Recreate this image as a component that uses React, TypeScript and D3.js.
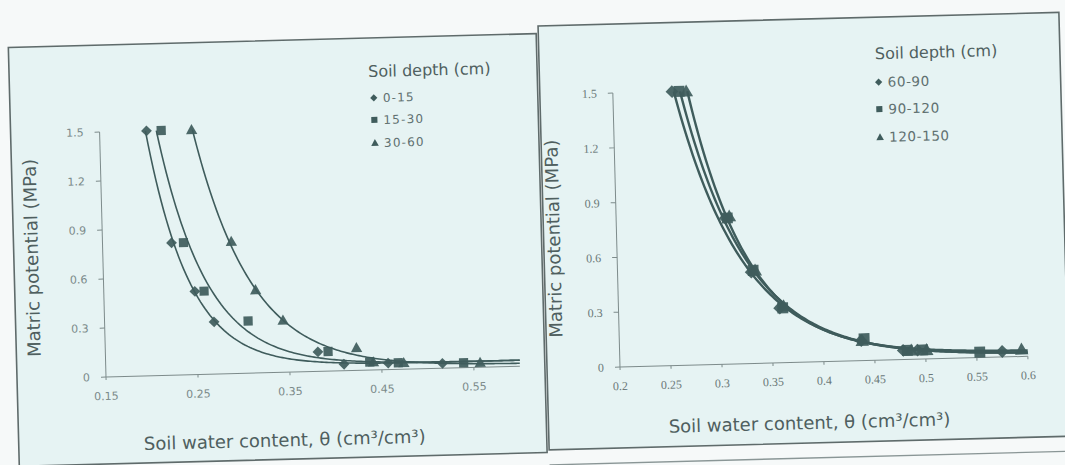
import React from "react";
import * as d3 from "d3";

// ---------------- Data ----------------
// Left chart: soil depth 0-60 cm  [water content θ, matric potential MPa]
const leftCategories = ["0-15", "15-30", "30-60"];
const depth0_15: [number, number][] = [
  [0.201, 1.5], [0.225, 0.81], [0.249, 0.51], [0.269, 0.32],
  [0.381, 0.12], [0.409, 0.04], [0.457, 0.04], [0.516, 0.03],
];
const depth15_30: [number, number][] = [
  [0.217, 1.5], [0.238, 0.81], [0.259, 0.51], [0.306, 0.32],
  [0.392, 0.12], [0.437, 0.05], [0.468, 0.04], [0.539, 0.03],
];
const depth30_60: [number, number][] = [
  [0.25, 1.5], [0.29, 0.81], [0.315, 0.51], [0.344, 0.32],
  [0.423, 0.14], [0.441, 0.05], [0.474, 0.04], [0.557, 0.03],
];
const leftXTicks = [0.15, 0.25, 0.35, 0.45, 0.55];
const leftXTickLabels = ["0.15", "0.25", "0.35", "0.45", "0.55"];
const leftYTicks = [0, 0.3, 0.6, 0.9, 1.2, 1.5];
const leftYTickLabels = ["0", "0.3", "0.6", "0.9", "1.2", "1.5"];

// Right chart: soil depth 60-150 cm
const rightCategories = ["60-90", "90-120", "120-150"];
const depth60_90: [number, number][] = [
  [0.258, 1.5], [0.307, 0.8], [0.331, 0.5], [0.358, 0.3],
  [0.437, 0.11], [0.478, 0.05], [0.492, 0.05], [0.575, 0.03],
];
const depth90_120: [number, number][] = [
  [0.265, 1.5], [0.309, 0.8], [0.333, 0.51], [0.361, 0.3],
  [0.44, 0.12], [0.482, 0.05], [0.497, 0.05], [0.553, 0.03],
];
const depth120_150: [number, number][] = [
  [0.272, 1.5], [0.311, 0.81], [0.335, 0.51], [0.362, 0.31],
  [0.438, 0.11], [0.486, 0.05], [0.501, 0.05], [0.594, 0.04],
];
const rightXTicks = [0.2, 0.25, 0.3, 0.35, 0.4, 0.45, 0.5, 0.55, 0.6];
const rightXTickLabels = ["0.2", "0.25", "0.3", "0.35", "0.4", "0.45", "0.5", "0.55", "0.6"];
const rightYTicks = [0, 0.3, 0.6, 0.9, 1.2, 1.5];
const rightYTickLabels = ["0", "0.3", "0.6", "0.9", "1.2", "1.5"];

const legendTitle = "Soil depth (cm)";
const yTitle = "Matric potential (MPa)";
const xTitle = "Soil water content, θ (cm³/cm³)";

// ---------------- Styling ----------------
const W = 1065;
const H = 465;
const PAGE = "#f6f9f9";
const PANEL = "#e6f3f3";
const FRAME = "#5f6b6b";
const INK = "#3f5c5c";
const TEXT = "#4f5f5f";
const TICKTEXT = "#7b8a8a";

type Pt = [number, number];

// weighted least-squares trendline y = c + a·exp(-b·x)
function fitExp(pts: Pt[]) {
  let best = { sse: Infinity, a: 0, b: 0, c: 0 };
  const w = pts.map((p) => 1 / p[1]);
  for (let b = 5; b <= 70; b += 0.1) {
    const e = pts.map((p) => Math.exp(-b * p[0]));
    const sw = d3.sum(w);
    const swe = d3.sum(e, (v, i) => w[i] * v);
    const swee = d3.sum(e, (v, i) => w[i] * v * v);
    const swy = d3.sum(pts, (p, i) => w[i] * p[1]);
    const swey = d3.sum(pts, (p, i) => w[i] * e[i] * p[1]);
    const det = sw * swee - swe * swe;
    if (Math.abs(det) < 1e-40) continue;
    const a = (sw * swey - swe * swy) / det;
    const c = (swy - a * swe) / sw;
    const sse = d3.sum(pts, (p, i) => w[i] * (c + a * e[i] - p[1]) ** 2);
    if (sse < best.sse) best = { sse, a, b, c };
  }
  return best;
}

function markerPath(kind: number, s: number) {
  if (kind === 0) return `M0,${-s}L${s},0L0,${s}L${-s},0Z`;
  if (kind === 1) {
    const h = s * 0.85;
    return `M${-h},${-h}H${h}V${h}H${-h}Z`;
  }
  const t = s * 1.05;
  return `M0,${-t}L${t},${t * 0.8}L${-t},${t * 0.8}Z`;
}

type PanelCfg = {
  series: Pt[][];
  names: string[];
  xDomain: [number, number];
  xRange: [number, number];
  yRange: [number, number];
  xTicks: number[];
  xTickLabels: string[];
  yTicks: number[];
  yTickLabels: string[];
  tickFont: string;
  tickSize: number;
  tickColor: string;
  rot: number;
  frame: [number, number, number, number];
  legend: { tx: number; ty: number; mx: number; lx: number; ys: number[]; size: number; spacing: number; titleSize: number };
  yTitlePos: [number, number];
  xTitlePos: [number, number];
  lineWidth: number;
  markerSize: number;
  extraLine?: boolean;
};

function Panel({ cfg }: { cfg: PanelCfg }) {
  const x = d3.scaleLinear().domain(cfg.xDomain).range(cfg.xRange);
  const y = d3.scaleLinear().domain([0, 1.5]).range(cfg.yRange);
  const ox = x(cfg.xDomain[0]);
  const oy = y(0);
  const line = d3.line<Pt>().x((d) => x(d[0])).y((d) => y(d[1])).curve(d3.curveLinear);
  const [fx0, fy0, fx1, fy1] = cfg.frame;

  const curves = cfg.series.map((pts) => {
    const f = fitExp(pts);
    const xStart = Math.log(f.a / (1.5 - f.c)) / f.b;
    const xEnd = cfg.xDomain[1];
    const n = 160;
    const cpts: Pt[] = d3.range(n + 1).map((i) => {
      const xv = xStart + ((xEnd - xStart) * i) / n;
      return [xv, f.c + f.a * Math.exp(-f.b * xv)];
    });
    return cpts;
  });

  return (
    <g transform={`rotate(${cfg.rot} ${ox} ${oy})`}>
      <rect x={fx0} y={fy0} width={fx1 - fx0} height={fy1 - fy0} fill={PANEL} stroke={FRAME} strokeWidth={1.6} />
      {cfg.extraLine && (
        <line x1={fx0} x2={fx1 + 20} y1={fy1 + 15} y2={fy1 + 15} stroke="#8a9696" strokeWidth={1.4} />
      )}
      {/* axes */}
      <line x1={ox} x2={ox} y1={oy} y2={y(1.5)} stroke="#7d8b8b" strokeWidth={1} />
      <line x1={ox} x2={x(cfg.xDomain[1])} y1={oy} y2={oy} stroke="#7d8b8b" strokeWidth={1} />
      {cfg.yTicks.map((t, i) => (
        <g key={"yt" + i}>
          <line x1={ox - 5} x2={ox} y1={y(t)} y2={y(t)} stroke="#7d8b8b" strokeWidth={1} />
          <text
            x={ox - 16}
            y={y(t)}
            dy="0.35em"
            textAnchor="end"
            fontFamily={cfg.tickFont}
            fontSize={cfg.tickSize}
            fill={cfg.tickColor}
          >
            {cfg.yTickLabels[i]}
          </text>
        </g>
      ))}
      {cfg.xTicks.map((t, i) => (
        <g key={"xt" + i}>
          <line x1={x(t)} x2={x(t)} y1={oy} y2={oy + 3} stroke="#7d8b8b" strokeWidth={1} />
          <text
            x={x(t)}
            y={oy + 23}
            textAnchor="middle"
            fontFamily={cfg.tickFont}
            fontSize={cfg.tickSize}
            fill={cfg.tickColor}
          >
            {cfg.xTickLabels[i]}
          </text>
        </g>
      ))}
      {/* fitted curves */}
      {curves.map((c, i) => (
        <path key={"c" + i} d={line(c) || ""} fill="none" stroke={INK} strokeWidth={cfg.lineWidth} />
      ))}
      {/* markers */}
      {cfg.series.map((pts, si) =>
        pts.map((p, i) => (
          <path
            key={`m${si}-${i}`}
            d={markerPath(si, cfg.markerSize)}
            transform={`translate(${x(p[0])},${y(p[1])})`}
            fill={INK}
            fillOpacity={0.92}
          />
        ))
      )}
      {/* legend */}
      <text x={cfg.legend.tx} y={cfg.legend.ty} fontFamily="DejaVu Sans" fontSize={cfg.legend.titleSize} fill={TEXT}>
        {legendTitle}
      </text>
      {cfg.names.map((nm, i) => (
        <g key={"lg" + i}>
          <path d={markerPath(i, 3.6)} transform={`translate(${cfg.legend.mx},${cfg.legend.ys[i]})`} fill={INK} />
          <text
            x={cfg.legend.lx}
            y={cfg.legend.ys[i]}
            dy="0.36em"
            fontFamily="DejaVu Sans"
            fontSize={cfg.legend.size}
            letterSpacing={cfg.legend.spacing}
            fill="#5f7070"
          >
            {nm}
          </text>
        </g>
      ))}
      {/* axis titles */}
      <text
        transform={`translate(${cfg.yTitlePos[0]},${cfg.yTitlePos[1]}) rotate(-90)`}
        textAnchor="middle"
        dy="0.35em"
        fontFamily="DejaVu Sans"
        fontSize={18}
        fill={TEXT}
      >
        {yTitle}
      </text>
      <text
        x={cfg.xTitlePos[0]}
        y={cfg.xTitlePos[1]}
        textAnchor="middle"
        fontFamily="DejaVu Sans"
        fontSize={18}
        fill={TEXT}
      >
        {xTitle}
      </text>
    </g>
  );
}

const leftCfg: PanelCfg = {
  series: [depth0_15, depth15_30, depth30_60],
  names: leftCategories,
  xDomain: [0.15, 0.6],
  xRange: [106, 520],
  yRange: [377, 132],
  xTicks: leftXTicks,
  xTickLabels: leftXTickLabels,
  yTicks: leftYTicks,
  yTickLabels: leftYTickLabels,
  tickFont: "DejaVu Sans",
  tickSize: 11,
  tickColor: TICKTEXT,
  rot: -1.5,
  frame: [17, 45, 545, 464],
  legend: { tx: 376, ty: 84, mx: 381, lx: 390, ys: [105, 127, 150], size: 12, spacing: 1.2, titleSize: 16 },
  yTitlePos: [35, 256],
  xTitlePos: [283, 451],
  lineWidth: 1.6,
  markerSize: 5.4,
};

const rightCfg: PanelCfg = {
  series: [depth60_90, depth90_120, depth120_150],
  names: rightCategories,
  xDomain: [0.2, 0.6],
  xRange: [620, 1028],
  yRange: [367, 93],
  xTicks: rightXTicks,
  xTickLabels: rightXTickLabels,
  yTicks: rightYTicks,
  yTickLabels: rightYTickLabels,
  tickFont: "Liberation Serif",
  tickSize: 12,
  tickColor: "#6a7878",
  rot: -1.5,
  frame: [547, 24, 1068, 448],
  legend: { tx: 883, ty: 66, mx: 886, lx: 895, ys: [89, 116, 144], size: 13.5, spacing: 0.6, titleSize: 16 },
  yTitlePos: [557, 237],
  xTitlePos: [808, 434],
  lineWidth: 2.4,
  markerSize: 6.4,
  extraLine: true,
};

export default function App() {
  return (
    <svg
      width={W}
      height={H}
      viewBox={`0 0 ${W} ${H}`}
      style={{ position: "absolute", left: 0, top: 0, display: "block" }}
    >
      <rect x={0} y={0} width={W} height={H} fill={PAGE} />
      <Panel cfg={leftCfg} />
      <Panel cfg={rightCfg} />
    </svg>
  );
}
